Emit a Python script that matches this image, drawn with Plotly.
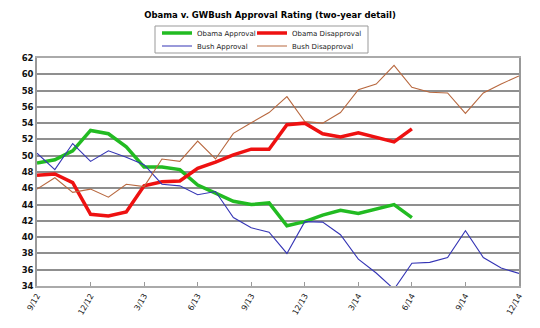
import plotly.graph_objects as go

months = ["9/12","10/12","11/12","12/12","1/13","2/13","3/13","4/13","5/13","6/13",
          "7/13","8/13","9/13","10/13","11/13","12/13","1/14","2/14","3/14","4/14",
          "5/14","6/14","7/14","8/14","9/14","10/14","11/14","12/14"]

obama_approval = [49.1,49.5,50.6,53.1,52.7,51.1,48.6,48.6,48.3,46.4,45.4,44.4,44.0,44.2,
                  41.4,41.9,42.7,43.3,42.9,43.5,44.0,42.4]
obama_disapproval = [47.6,47.75,46.7,42.8,42.6,43.1,46.3,46.8,46.9,48.45,49.2,50.1,50.8,50.8,
                     53.8,54.0,52.7,52.3,52.8,52.3,51.7,53.3]
bush_approval = [50.3,48.3,51.5,49.3,50.6,49.8,48.9,46.5,46.3,45.2,45.6,42.4,41.15,40.6,
                 38.0,41.9,41.85,40.3,37.3,35.6,33.6,36.8,36.9,37.5,40.8,37.5,36.2,35.55]
bush_disapproval = [45.9,47.3,45.5,45.9,44.9,46.5,46.2,49.6,49.3,51.8,49.6,52.75,54.05,55.3,
                    57.25,54.2,54.0,55.3,58.1,58.8,61.1,58.4,57.8,57.7,55.2,57.7,58.8,59.8]

tick_idx = list(range(0, 28, 3))
tick_text = [months[i] for i in tick_idx]
y_ticks = list(range(34, 63, 2))

FONT = "DejaVu Sans, Verdana, sans-serif"

# plot area in pixels
L, R, T, B = 37, 519, 58, 286
PW, PH = R - L, B - T
def px(x): return (x - L) / PW
def py(y): return (B - y) / PH

series = [
    ("Obama Approval", obama_approval, "#22bb22", 3.5, "legend", 157, 33),
    ("Obama Disapproval", obama_disapproval, "#ee1111", 3.5, "legend2", 252, 33),
    ("Bush Approval", bush_approval, "#3535b5", 1.1, "legend3", 157, 46),
    ("Bush Disapproval", bush_disapproval, "#b8683f", 1.1, "legend4", 252, 46),
]

fig = go.Figure()
legends = {}
for name, vals, color, w, leg, lx, ly in series:
    fig.add_trace(go.Scatter(x=list(range(len(vals))), y=vals, mode="lines", name=name,
                             line=dict(color=color, width=w), legend=leg))
    legends[leg] = dict(x=px(lx), y=py(ly), xanchor="left", yanchor="middle",
                        font=dict(family=FONT, size=7, color="#222"),
                        bgcolor="rgba(0,0,0,0)", itemwidth=30,
                        itemclick=False, itemdoubleclick=False)

fig.update_layout(
    width=540, height=328,
    margin=dict(l=L, r=540 - R, t=T, b=328 - B),
    paper_bgcolor="white", plot_bgcolor="white",
    title=dict(text="<b>Obama v. GWBush Approval Rating (two-year detail)</b>",
               x=0.5, xanchor="center", y=1 - 15/328, yanchor="middle",
               font=dict(family=FONT, size=8.5, color="black")),
    showlegend=True,
    xaxis=dict(range=[0, 27], tickvals=tick_idx, ticktext=tick_text, tickangle=-60,
               showgrid=False, zeroline=False, showline=True, linecolor="#aaaaaa", linewidth=2,
               mirror=True, ticks="inside", ticklen=4, tickcolor="#999999",
               tickfont=dict(family=FONT, size=8, color="#222")),
    yaxis=dict(range=[34, 62], tickvals=y_ticks, showgrid=True, gridcolor="#8f8f8f", gridwidth=1.5,
               zeroline=False, showline=True, linecolor="#999999", linewidth=1.5, mirror=True,
               ticks="", tickfont=dict(family=FONT, size=8.5, color="#111", weight="bold")),
    shapes=[dict(type="rect", xref="paper", yref="paper",
                 x0=px(155), x1=px(368), y0=py(53), y1=py(26),
                 line=dict(color="#999999", width=1), fillcolor="rgba(0,0,0,0)", layer="above")],
    **legends,
)

fig.write_html("out.html")
